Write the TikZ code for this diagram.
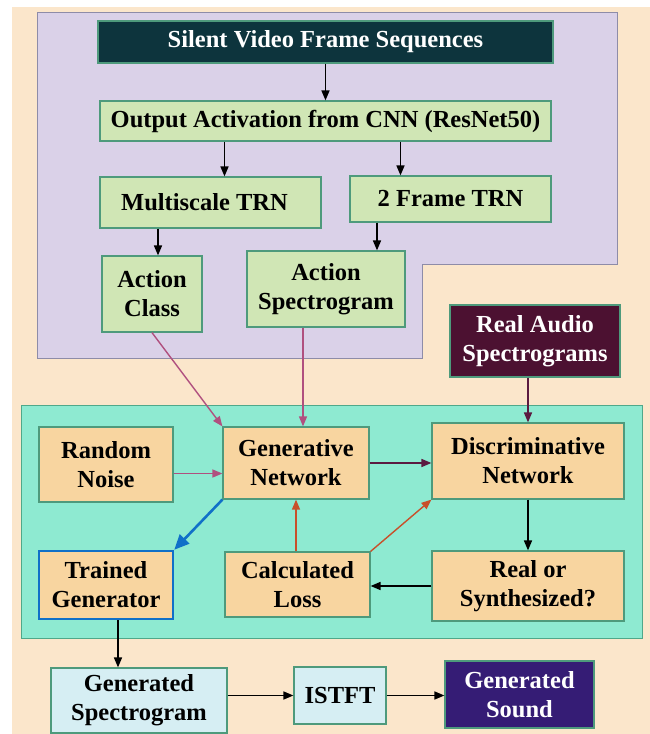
\documentclass[tikz,border=0pt]{standalone}
\usepackage{fontspec}
\setmainfont{Liberation Serif}
\usetikzlibrary{arrows.meta, calc}
\definecolor{peachbg}{HTML}{FBE6CB}
\definecolor{lilacbg}{HTML}{DAD1E8}
\definecolor{lilacedge}{HTML}{8E8CA8}
\definecolor{mintbg}{HTML}{8EEAD1}
\definecolor{mintedge}{HTML}{4FA88A}
\definecolor{greenbox}{HTML}{D0E6B5}
\definecolor{orangebox}{HTML}{F8D5A0}
\definecolor{bluebox}{HTML}{D6EEF3}
\definecolor{boxedge}{HTML}{4E9A7C}
\definecolor{darkteal}{HTML}{0D343D}
\definecolor{darkmaroon}{HTML}{4C1131}
\definecolor{darkviolet}{HTML}{351C75}
\definecolor{pinkarrow}{HTML}{B0507F}
\definecolor{maroonarrow}{HTML}{5B1A40}
\definecolor{rustarrow}{HTML}{C8502A}
\definecolor{bluearrow}{HTML}{1070C8}

\begin{document}
\begin{tikzpicture}[x=1pt, y=-1pt,
  box/.style={rectangle, draw=boxedge, line width=1.2pt, align=center,
              font=\fontsize{24.5}{29}\selectfont\bfseries, inner sep=0pt},
  vidbox/.style={box, fill=greenbox},
  ganbox/.style={box, fill=orangebox},
  outbox/.style={box, fill=bluebox},
  darkbox/.style={box, text=white},
  arr/.style={-{Triangle[length=10pt, width=8pt]}, line width=1.6pt, black},
  pinkarr/.style={arr, line width=1.4pt, pinkarrow},
  maroonarr/.style={arr, maroonarrow},
  rustarr/.style={arr, line width=1.4pt, rustarrow}
]
  \useasboundingbox (0,0) rectangle (650,734);
  % background areas
  \fill[peachbg] (12,7) rectangle (650,734);
  \draw[lilacedge, fill=lilacbg, line width=1pt]
    (37,12) -- (617,12) -- (617,264) -- (422,264) -- (422,358) -- (37,358) -- cycle;
  \draw[mintedge, fill=mintbg, line width=1pt] (21,405) rectangle (642,638);

  % video part
  \node[darkbox, fill=darkteal, minimum width=455pt, minimum height=42pt] (frames) at (325.5,42) {Silent Video Frame Sequences};
  \node[vidbox, minimum width=451pt, minimum height=40pt] (cnn) at (325.5,121) {Output Activation from CNN (ResNet50)};
  \node[vidbox, minimum width=221pt, minimum height=51pt] (mstrn) at (210.5,202.5) {Multiscale TRN\hspace*{12pt}};
  \node[vidbox, minimum width=201pt, minimum height=46pt] (ftrn) at (450.5,199) {2 Frame TRN};
  \node[vidbox, minimum width=100pt, minimum height=76pt] (aclass) at (152,294) {Action\\Class};
  \node[vidbox, minimum width=158pt, minimum height=76pt] (aspec) at (326,289) {Action\\Spectrogram};
  \node[darkbox, fill=darkmaroon, minimum width=170pt, minimum height=72pt] (real) at (535,341) {Real Audio\\Spectrograms};

  % GAN part
  \node[ganbox, minimum width=134pt, minimum height=75pt] (noise) at (106,464.5) {Random\\Noise};
  \node[ganbox, minimum width=146pt, minimum height=72pt] (gen) at (296,463) {Generative\\Network};
  \node[ganbox, minimum width=192pt, minimum height=76pt] (disc) at (528,461) {Discriminative\\Network};
  \node[ganbox, draw=bluearrow, line width=2.5pt, minimum width=134pt, minimum height=68pt] (trained) at (106,585) {Trained\\Generator};
  \node[ganbox, minimum width=145pt, minimum height=65pt] (loss) at (297.5,584.5) {Calculated\\Loss};
  \node[ganbox, minimum width=192pt, minimum height=70pt] (verdict) at (528,586) {Real or\\Synthesized?};

  % output part
  \node[outbox, minimum width=176pt, minimum height=65pt] (gspec) at (139,700.5) {Generated\\Spectrogram};
  \node[outbox, minimum width=92pt, minimum height=57pt] (istft) at (340,695.5) {ISTFT};
  \node[darkbox, fill=darkviolet, minimum width=149pt, minimum height=67pt] (sound) at (519.5,694.5) {Generated\\Sound};

  % connectors
  \draw[arr] (frames.south) -- (cnn.north);
  \draw[arr] ($(cnn.south -| mstrn.north)+(14,0)$) -- ($(mstrn.north)+(14,0)$);
  \draw[arr] ($(cnn.south -| ftrn.north)+(-50,0)$) -- ($(ftrn.north)+(-50,0)$);
  \draw[arr] ($(mstrn.south -| aclass.north)+(6,0)$) -- ($(aclass.north)+(6,0)$);
  \draw[arr] ($(ftrn.south -| aspec.north)+(51,0)$) -- ($(aspec.north)+(51,0)$);
  \draw[pinkarr] (aclass.south) -- (gen.north west);
  \draw[pinkarr] ($(aspec.south)+(-23,0)$) -- ($(aspec.south |- gen.north)+(-23,0)$);
  \draw[maroonarr] (real.south -| disc.north) -- (disc.north);
  \draw[pinkarr] ($(noise.east)+(0,9)$) -- ($(noise.east -| gen.west)+(0,9)$);
  \draw[maroonarr] (gen.east) -- (gen.east -| disc.west);
  \draw[arr] (disc.south) -- (verdict.north);
  \draw[arr] (verdict.west) -- (verdict.west -| loss.east);
  \draw[rustarr] (loss.north -| gen.south) -- (gen.south);
  \draw[rustarr] (loss.north east) -- (disc.south west);
  \draw[-{Triangle[length=15pt, width=13pt]}, line width=2.6pt, bluearrow] (gen.south west) -- (trained.north east);
  \draw[arr] ($(trained.south)+(12,0)$) -- ($(trained.south |- gspec.north)+(12,0)$);
  \draw[arr] (istft.west -| gspec.east) -- (istft.west);
  \draw[arr] (istft.east) -- (istft.east -| sound.west);
\end{tikzpicture}
\end{document}
